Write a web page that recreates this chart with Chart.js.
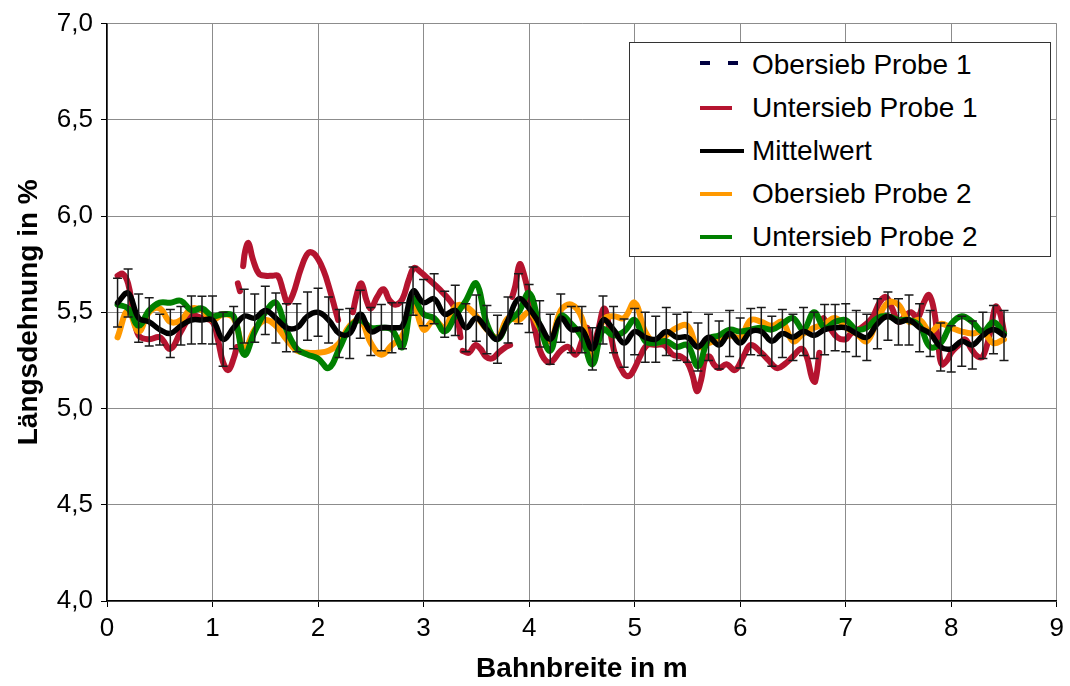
<!DOCTYPE html>
<html><head><meta charset="utf-8">
<script src="https://cdn.jsdelivr.net/npm/chart.js@4.4.1/dist/chart.umd.min.js"></script>
<style>
html,body{margin:0;padding:0;background:#fff;}
#wrap{position:relative;width:1070px;height:686px;}
#legend{position:absolute;left:629px;top:42px;width:422px;height:215px;border:1.5px solid #333;background:#fff;box-sizing:border-box;font-family:"Liberation Sans",Arial,sans-serif;font-size:28px;color:#000;}
.row{position:absolute;left:0;width:100%;height:34px;}
.sample{position:absolute;top:15px;height:0;}
.txt{position:absolute;left:122px;top:0;line-height:34px;white-space:nowrap;}
</style></head>
<body>
<div id="wrap"><canvas id="c" width="1070" height="686"></canvas><div id="legend"></div></div>
<script>
const FONT = '"Liberation Sans", Arial, sans-serif';

const xPos = [0.1,0.2,0.3,0.4,0.5,0.6,0.7,0.8,0.9,1.0,1.1,1.2,1.3,1.4,1.5,1.6,1.7,1.8,1.9,2.0,
2.1,2.2,2.3,2.4,2.5,2.6,2.7,2.8,2.9,3.0,3.1,3.2,3.3,3.4,3.5,3.6,3.7,3.8,3.9,4.0,
4.1,4.2,4.3,4.4,4.5,4.6,4.7,4.8,4.9,5.0,5.1,5.2,5.3,5.4,5.5,5.6,5.7,5.8,5.9,6.0,
6.1,6.2,6.3,6.4,6.5,6.6,6.7,6.8,6.9,7.0,7.1,7.2,7.3,7.4,7.5,7.6,7.7,7.8,7.9,8.0,
8.1,8.2,8.3,8.4,8.5];

const mittelwert = [5.55,5.60,5.47,5.45,5.41,5.39,5.43,5.46,5.46,5.46,5.36,5.42,5.48,5.47,5.51,5.47,5.42,5.42,5.48,5.50,
5.46,5.39,5.39,5.49,5.40,5.42,5.42,5.43,5.61,5.55,5.57,5.49,5.51,5.42,5.47,5.41,5.36,5.46,5.57,5.52,
5.44,5.36,5.47,5.41,5.41,5.31,5.46,5.41,5.34,5.40,5.37,5.36,5.40,5.37,5.37,5.32,5.37,5.33,5.39,5.34,
5.40,5.40,5.35,5.39,5.37,5.40,5.38,5.41,5.42,5.42,5.39,5.37,5.44,5.48,5.45,5.46,5.42,5.39,5.32,5.31,
5.35,5.33,5.38,5.41,5.38];

const abweichung = [0.127,0.125,0.125,0.125,0.08,0.125,0.10,0.125,0.123,0.125,0.14,0.11,0.14,0.125,0.125,0.13,0.125,0.125,0.125,0.125,
0.12,0.125,0.13,0.125,0.125,0.12,0.13,0.12,0.125,0.12,0.13,0.12,0.13,0.125,0.12,0.125,0.125,0.12,0.13,0.125,
0.12,0.13,0.125,0.12,0.12,0.11,0.125,0.12,0.125,0.12,0.13,0.12,0.125,0.12,0.13,0.125,0.12,0.125,0.12,0.13,
0.12,0.125,0.13,0.125,0.12,0.125,0.12,0.13,0.12,0.125,0.12,0.12,0.13,0.125,0.12,0.13,0.125,0.12,0.125,0.12,
0.13,0.125,0.12,0.125,0.13];

const obersieb2 = [5.37,5.51,5.40,5.50,5.52,5.45,5.46,5.52,5.51,5.46,5.49,5.47,5.31,5.41,5.46,5.43,5.36,5.30,5.29,5.29,
5.30,5.34,5.43,5.46,5.34,5.28,5.33,5.38,5.55,5.41,5.46,5.42,5.53,5.53,5.48,5.41,5.37,5.47,5.46,5.50,
5.42,5.35,5.51,5.54,5.47,5.24,5.46,5.48,5.47,5.55,5.40,5.34,5.38,5.42,5.43,5.32,5.34,5.36,5.38,5.37,
5.46,5.45,5.43,5.45,5.35,5.39,5.42,5.44,5.47,5.42,5.39,5.35,5.46,5.55,5.54,5.45,5.46,5.40,5.44,5.42,
5.40,5.39,5.40,5.34,5.36];

const untersieb2 = [5.54,5.52,5.43,5.51,5.55,5.55,5.56,5.51,5.52,5.48,5.49,5.48,5.28,5.40,5.50,5.55,5.41,5.31,5.28,5.26,
5.21,5.31,5.42,5.46,5.42,5.42,5.41,5.32,5.57,5.49,5.47,5.40,5.48,5.56,5.65,5.44,5.36,5.45,5.50,5.60,
5.43,5.30,5.48,5.44,5.37,5.23,5.41,5.38,5.40,5.46,5.35,5.34,5.35,5.32,5.33,5.22,5.36,5.38,5.41,5.40,
5.41,5.42,5.41,5.44,5.47,5.41,5.50,5.42,5.45,5.46,5.41,5.42,5.47,5.48,5.46,5.46,5.43,5.32,5.34,5.44,
5.48,5.45,5.40,5.45,5.39];

// Untersieb Probe 1: own positions, null = gap in the curve
const untersieb1X = [0.1,0.15,0.2,0.25,0.3,0.4,0.5,0.6,0.7,0.8,0.9,1.0,1.05,1.1,1.15,1.2,1.23,1.235,
1.24,1.26,1.275,
1.29,1.31,1.34,1.38,1.44,1.5,1.57,1.62,1.67,1.71,1.76,1.84,1.91,1.97,2.05,2.12,2.16,2.19,2.26,
2.33,2.37,2.41,2.46,2.5,2.56,2.62,2.68,2.74,2.8,2.86,2.91,2.97,3.05,3.15,3.25,3.31,3.35,3.36,
3.37,3.43,3.49,3.54,3.59,3.65,3.71,3.78,3.82,3.83,
3.84,3.87,3.91,3.95,4.0,4.06,4.12,4.2,4.3,4.37,4.44,4.5,4.55,4.6,4.65,4.71,4.76,4.82,4.9,4.95,
5.0,5.06,5.12,5.2,5.28,5.36,5.44,5.5,5.55,5.59,5.63,5.67,5.71,5.75,5.8,5.87,5.95,6.03,6.1,6.2,
6.27,6.35,6.42,6.5,6.58,6.63,6.68,6.71,6.75,6.77,
6.79,6.85,6.92,7.0,7.05,7.15,7.25,7.32,7.38,7.44,7.5,7.56,7.62,7.68,7.74,7.79,7.84,7.88,7.91,7.96,
8.0,8.07,8.13,8.19,8.25,8.3,8.37,8.42,8.46,8.5];
const untersieb1Y = [5.69,5.70,5.65,5.50,5.38,5.36,5.37,5.31,5.40,5.48,5.47,5.45,5.36,5.24,5.20,5.26,5.32,null,
5.65,5.61,null,
5.74,5.82,5.86,5.78,5.70,5.69,5.69,5.69,5.61,5.55,5.59,5.73,5.81,5.80,5.72,5.60,5.52,5.46,null,
5.50,5.60,5.65,5.56,5.52,5.58,5.62,5.56,5.54,5.57,5.67,5.73,5.71,5.67,5.62,5.56,5.50,5.37,null,
5.30,5.29,5.33,5.31,5.27,5.26,5.29,5.32,5.33,null,
5.58,5.64,5.75,5.70,5.58,5.40,5.28,5.24,5.30,5.32,5.28,5.35,5.42,5.33,5.40,5.52,5.42,5.27,5.18,5.17,
5.21,5.28,5.33,5.33,5.33,5.28,5.27,5.24,5.17,5.09,5.15,5.26,5.27,5.23,5.21,5.23,5.20,5.27,5.33,5.29,
5.25,5.21,5.23,5.27,5.31,5.27,5.16,5.14,5.29,null,
5.47,5.42,5.37,5.36,5.39,5.42,5.47,5.55,5.58,5.52,5.45,5.48,5.50,5.47,5.55,5.59,5.50,5.32,5.23,5.25,
5.29,5.33,5.36,5.31,5.27,5.27,5.40,5.53,5.50,5.40];

// Obersieb Probe 1: not visible in the plot (legend entry only)
const obersieb1X = [];
const obersieb1Y = [];

const labels = ['Obersieb Probe 1','Untersieb Probe 1','Mittelwert','Obersieb Probe 2','Untersieb Probe 2'];
const colors = ['#000040','#B5142F','#000000','#FF9900','#008000'];

const pts = (xs, ys) => xs.map((x, i) => ({x: x, y: ys[i]}));

const errorBars = {
  id: 'errorBars',
  afterDatasetsDraw(chart) {
    const ctx = chart.ctx, xs = chart.scales.x, ys = chart.scales.y;
    ctx.save();
    ctx.strokeStyle = '#1a1a1a';
    ctx.lineWidth = 1.5;
    ctx.beginPath();
    for (let i = 0; i < xPos.length; i++) {
      const px = xs.getPixelForValue(xPos[i]);
      const t = ys.getPixelForValue(mittelwert[i] + abweichung[i]);
      const b = ys.getPixelForValue(mittelwert[i] - abweichung[i]);
      ctx.moveTo(px, t); ctx.lineTo(px, b);
      ctx.moveTo(px - 4.5, t); ctx.lineTo(px + 4.5, t);
      ctx.moveTo(px - 4.5, b); ctx.lineTo(px + 4.5, b);
    }
    ctx.stroke();
    ctx.restore();
  }
};

const common = {pointRadius: 0, pointHoverRadius: 0, tension: 0.4, fill: false, spanGaps: false, borderCapStyle: 'round', borderJoinStyle: 'round'};

const chart = new Chart(document.getElementById('c'), {
  type: 'line',
  data: {
    datasets: [
      Object.assign({label: labels[0], data: pts(obersieb1X, obersieb1Y), borderColor: colors[0], borderWidth: 4, borderDash: [10, 17], order: 5}, common),
      Object.assign({label: labels[1], data: pts(untersieb1X, untersieb1Y), borderColor: colors[1], borderWidth: 6, order: 4}, common),
      Object.assign({label: labels[2], data: pts(xPos, mittelwert), borderColor: colors[2], borderWidth: 5.5, order: 1}, common),
      Object.assign({label: labels[3], data: pts(xPos, obersieb2), borderColor: colors[3], borderWidth: 6, order: 3}, common),
      Object.assign({label: labels[4], data: pts(xPos, untersieb2), borderColor: colors[4], borderWidth: 6, order: 2}, common)
    ]
  },
  options: {
    responsive: false,
    devicePixelRatio: 1,
    animation: false,
    layout: {padding: {left: 0, right: 8, top: 22, bottom: 0}},
    plugins: {legend: {display: false}, tooltip: {enabled: false}},
    scales: {
      x: {
        type: 'linear', min: 0, max: 9,
        ticks: {stepSize: 1, font: {family: FONT, size: 26}, color: '#000', padding: 6},
        grid: {color: '#8c8c8c', lineWidth: 1, tickLength: 6, tickColor: '#000'},
        border: {color: '#000', width: 1.5},
        title: {display: true, text: 'Bahnbreite in m', font: {family: FONT, size: 28, weight: 'bold'}, color: '#000', padding: {top: 0, bottom: 0}},
        afterFit(s) { s.height = 85; }
      },
      y: {
        min: 4, max: 7,
        ticks: {stepSize: 0.5, font: {family: FONT, size: 26}, color: '#000', padding: 8,
                callback: v => v.toFixed(1).replace('.', ',')},
        grid: {color: '#8c8c8c', lineWidth: 1, tickLength: 6, tickColor: '#000'},
        border: {color: '#000', width: 1.5},
        title: {display: true, text: 'Längsdehnung in %', font: {family: FONT, size: 28, weight: 'bold'}, color: '#000', padding: {top: 12, bottom: 0}},
        afterFit(s) { s.width = 107; }
      }
    }
  },
  plugins: [errorBars]
});

// HTML legend built from the datasets
const leg = document.getElementById('legend');
chart.data.datasets.forEach((ds, i) => {
  const row = document.createElement('div');
  row.className = 'row';
  row.style.top = (5 + 43 * i) + 'px';
  const s = document.createElement('div');
  s.className = 'sample';
  const w = i === 2 ? 44 : 32;
  s.style.left = '70px';
  s.style.width = w + 'px';
  s.style.borderTop = '4px solid ' + ds.borderColor;
  if (ds.borderDash) {
    s.style.borderTop = 'none';
    s.style.height = '4px';
    s.style.top = '13px';
    s.style.background = 'linear-gradient(to right,' + ds.borderColor + ' 0,' + ds.borderColor + ' 10px,transparent 10px,transparent 28px,' + ds.borderColor + ' 28px,' + ds.borderColor + ' 38px,transparent 38px)';
    s.style.width = '40px';
  }
  const t = document.createElement('div');
  t.className = 'txt';
  t.textContent = ds.label;
  row.appendChild(s); row.appendChild(t);
  leg.appendChild(row);
});
</script>
</body></html>
